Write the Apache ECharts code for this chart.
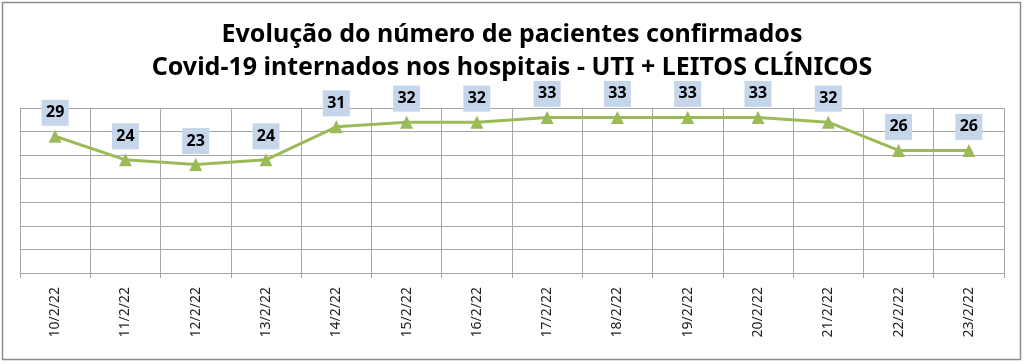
<!DOCTYPE html>
<html><head><meta charset="utf-8">
<script src="https://cdn.jsdelivr.net/npm/echarts@6/dist/echarts.min.js"></script>
<style>html,body{margin:0;padding:0;background:#fff}#c{width:1024px;height:364px}</style>
</head><body><div id="c"></div>
<script>
const categories = ['10/2/22','11/2/22','12/2/22','13/2/22','14/2/22','15/2/22','16/2/22','17/2/22','18/2/22','19/2/22','20/2/22','21/2/22','22/2/22','23/2/22'];
const values = [29,24,23,24,31,32,32,33,33,33,33,32,26,26];
const titleLines = ['Evolução do número de pacientes confirmados','Covid-19 internados nos hospitais - UTI + LEITOS CLÍNICOS'];
const chart = echarts.init(document.getElementById('c'));
chart.setOption({
  backgroundColor:'#fff',
  animation:false,
  title:{text:titleLines.join('\n'),left:'center',top:13,
    textStyle:{fontFamily:'Noto Sans',fontWeight:'bold',fontSize:25,color:'#000',lineHeight:33}},
  graphic:[{type:'rect',shape:{x:2.5,y:2.5,width:1018,height:357},style:{fill:'none',stroke:'#8c8c8c',lineWidth:1.5}}],
  grid:{left:20,right:20,top:108,bottom:91},
  xAxis:{type:'category',data:categories,boundaryGap:true,
    axisLine:{lineStyle:{color:'#a6a6a6'}},
    axisTick:{show:true,length:5,lineStyle:{color:'#a6a6a6'}},
    splitLine:{show:true,lineStyle:{color:'#a6a6a6'}},
    axisLabel:{rotate:90,fontFamily:'Noto Sans',fontSize:14,color:'#222',margin:14}},
  yAxis:{type:'value',min:0,max:35,interval:5,
    axisLabel:{show:false},axisTick:{show:false},
    axisLine:{show:true,lineStyle:{color:'#a6a6a6'}},
    splitLine:{lineStyle:{color:'#a6a6a6'}}},
  series:[{type:'line',data:values,symbol:'triangle',symbolSize:13,
    lineStyle:{color:'#9bbb59',width:3},itemStyle:{color:'#9bbb59'},
    label:{show:true,position:'top',distance:4,fontFamily:'Noto Sans',fontWeight:'bold',fontSize:16,color:'#000',
      backgroundColor:'#c5d5ea',padding:[3,4,3,4],width:19,height:20,lineHeight:20,align:'center'}}]
});
</script></body></html>
